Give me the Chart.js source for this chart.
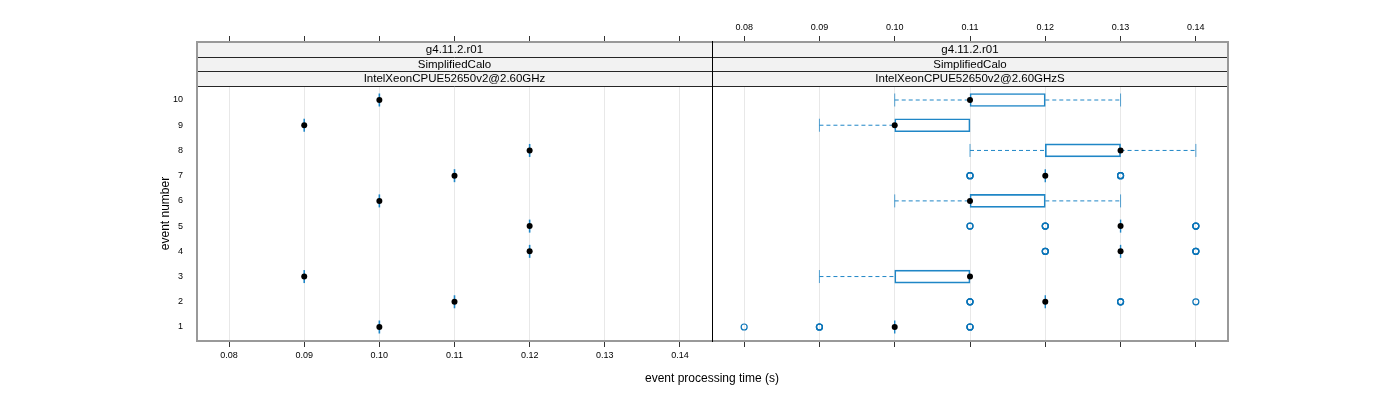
<!DOCTYPE html>
<html>
<head>
<meta charset="utf-8">
<script src="https://cdn.jsdelivr.net/npm/chart.js@4.4.0/dist/chart.umd.min.js"></script>
<style>
body { margin: 0; background: #fff; }
#wrap { position: relative; width: 1400px; height: 400px; }
canvas { position: absolute; left: 0; top: 0; }
</style>
</head>
<body>
<div id="wrap">
  <canvas id="leftPanel" width="1400" height="400"></canvas>
  <canvas id="rightPanel" width="1400" height="400"></canvas>
</div>
<script>
// y axis: event number
var events = [1, 2, 3, 4, 5, 6, 7, 8, 9, 10];
// x axis ticks (s)
var timeTicks = [0.08, 0.09, 0.10, 0.11, 0.12, 0.13, 0.14];

var leftStrips = ['g4.11.2.r01', 'SimplifiedCalo', 'IntelXeonCPUE52650v2@2.60GHz'];
var rightStrips = ['g4.11.2.r01', 'SimplifiedCalo', 'IntelXeonCPUE52650v2@2.60GHzS'];

// left panel: every run gave the same time
var leftTime = [0.10, 0.11, 0.09, 0.12, 0.12, 0.10, 0.11, 0.12, 0.09, 0.10];

// right panel: box statistics per event
var rightMin = [0.10, 0.12, 0.09, 0.13, 0.13, 0.10, 0.12, 0.11, 0.09, 0.10];
var rightQ1  = [0.10, 0.12, 0.10, 0.13, 0.13, 0.11, 0.12, 0.12, 0.10, 0.11];
var rightMed = [0.10, 0.12, 0.11, 0.13, 0.13, 0.11, 0.12, 0.13, 0.10, 0.11];
var rightQ3  = [0.10, 0.12, 0.11, 0.13, 0.13, 0.12, 0.12, 0.13, 0.11, 0.12];
var rightMax = [0.10, 0.12, 0.11, 0.13, 0.13, 0.13, 0.12, 0.14, 0.11, 0.13];

// right panel outliers (repeated values overplot)
var outlierEvent = [1, 1, 1, 1, 1, 1, 1,
                    2, 2, 2, 2, 2, 2, 2,
                    4, 4, 4, 4, 4, 4,
                    5, 5, 5, 5, 5, 5, 5, 5,
                    7, 7, 7, 7, 7, 7];
var outlierTime = [0.08, 0.09, 0.09, 0.09, 0.11, 0.11, 0.11,
                   0.11, 0.11, 0.11, 0.13, 0.13, 0.13, 0.14,
                   0.12, 0.12, 0.12, 0.14, 0.14, 0.14,
                   0.11, 0.11, 0.12, 0.12, 0.12, 0.14, 0.14, 0.14,
                   0.11, 0.11, 0.11, 0.13, 0.13, 0.13];

var xMin = 0.07573, xMax = 0.14427;
var yMin = 0.445, yMax = 12.30;
var boxColor = '#1f86c6';
var dotColor = '#0a74b8';
var fontFamily = '"Liberation Sans", Arial, sans-serif';

Chart.defaults.font.family = fontFamily;
Chart.defaults.font.size = 9;
Chart.defaults.color = '#000';

function pts(xs, ys) {
  return xs.map(function (x, i) { return {x: x, y: ys[i]}; });
}

// boxes, whiskers and staples for the right panel
var boxes = [], flatBoxes = [], whiskers = [], staples = [];
events.forEach(function (e, i) {
  if (rightQ1[i] < rightQ3[i]) boxes.push({x: [rightQ1[i], rightQ3[i]], y: e});
  else flatBoxes.push({x: rightMed[i], y: e});
  if (rightMin[i] < rightQ1[i]) {
    whiskers.push({x: rightMin[i], y: e}, {x: rightQ1[i], y: e}, {x: null, y: null});
    staples.push({x: rightMin[i], y: e});
  }
  if (rightMax[i] > rightQ3[i]) {
    whiskers.push({x: rightQ3[i], y: e}, {x: rightMax[i], y: e}, {x: null, y: null});
    staples.push({x: rightMax[i], y: e});
  }
});

var latticePlugin = {
  id: 'lattice',
  beforeDatasetsDraw: function (chart, args, opts) {
    var a = chart.chartArea, ctx = chart.ctx, h = 44 / 3;
    ctx.save();
    ctx.fillStyle = '#f2f2f2';
    ctx.fillRect(a.left, a.top, a.width, 44);
    ctx.font = '11.5px ' + fontFamily;
    ctx.textAlign = 'center';
    ctx.textBaseline = 'middle';
    ctx.strokeStyle = '#262626';
    ctx.lineWidth = 1;
    opts.strips.forEach(function (label, i) {
      var top = a.top + i * h;
      ctx.fillStyle = '#000';
      ctx.fillText(label, (a.left + a.right) / 2, top + h / 2 + 0.5);
      ctx.beginPath();
      ctx.moveTo(a.left, Math.round(top + h) + 0.5);
      ctx.lineTo(a.right, Math.round(top + h) + 0.5);
      ctx.stroke();
    });
    ctx.restore();
  },
  afterDraw: function (chart, args, opts) {
    var a = chart.chartArea, ctx = chart.ctx;
    ctx.save();
    ctx.strokeStyle = '#999';
    ctx.lineWidth = 2;
    ctx.beginPath();
    if (opts.side === 'left') {
      ctx.moveTo(a.right, a.top); ctx.lineTo(a.left, a.top);
      ctx.lineTo(a.left, a.bottom); ctx.lineTo(a.right, a.bottom);
    } else {
      ctx.moveTo(a.left, a.top); ctx.lineTo(a.right, a.top);
      ctx.lineTo(a.right, a.bottom); ctx.lineTo(a.left, a.bottom);
    }
    ctx.stroke();
    ctx.font = '12px ' + fontFamily;
    ctx.fillStyle = '#000';
    ctx.textAlign = 'center';
    ctx.textBaseline = 'middle';
    if (opts.side === 'left') {
      ctx.translate(a.left - 31, (a.top + 44 + a.bottom) / 2);
      ctx.rotate(-Math.PI / 2);
      ctx.fillText('event number', 0, 0);
    } else {
      ctx.strokeStyle = '#000';
      ctx.lineWidth = 1;
      ctx.beginPath();
      ctx.moveTo(a.left + 0.5, a.top - 1);
      ctx.lineTo(a.left + 0.5, a.bottom + 1);
      ctx.stroke();
      ctx.fillText('event processing time (s)', a.left, a.bottom + 38);
    }
    ctx.restore();
  }
};

function setTimeTicks(scale) {
  scale.ticks = timeTicks.map(function (v) { return {value: v}; });
}

function timeScales(labelsBottom) {
  return {
    x: {
      type: 'linear', position: 'bottom', min: xMin, max: xMax, offset: false,
      afterBuildTicks: setTimeTicks,
      afterFit: function (s) { s.height = 59; },
      grid: {color: '#e8e8e8', tickColor: '#333', tickLength: 6},
      border: {display: false},
      ticks: {display: labelsBottom, padding: 3, callback: function (v) { return v.toFixed(2); }}
    },
    x2: {
      type: 'linear', position: 'top', min: xMin, max: xMax, offset: false,
      afterBuildTicks: setTimeTicks,
      afterFit: function (s) { s.height = 42; },
      grid: {drawOnChartArea: false, tickColor: '#333', tickLength: 6},
      border: {display: false},
      ticks: {display: !labelsBottom, padding: 3, callback: function (v) { return v.toFixed(2); }}
    },
    y: {
      type: 'linear', min: yMin, max: yMax, offset: false, display: labelsBottom,
      afterBuildTicks: function (s) { s.ticks = events.map(function (v) { return {value: v}; }); },
      afterFit: function (s) { s.width = labelsBottom ? 38 : 0; },
      grid: {display: false},
      border: {display: false},
      ticks: {padding: 6, callback: function (v) { return v; }}
    }
  };
}

var commonOptions = {
  responsive: false,
  animation: false,
  events: [],
  plugins: {legend: {display: false}, tooltip: {enabled: false}}
};

var leftChart = new Chart(document.getElementById('leftPanel'), {
  type: 'scatter',
  data: {
    datasets: [
      {
        data: pts(leftTime, events),
        pointRadius: 3, pointBackgroundColor: '#000', pointBorderColor: '#000', pointBorderWidth: 0
      },
      {
        data: pts(leftTime, events),
        pointStyle: 'line', rotation: 90, pointRadius: 6.5,
        pointBorderColor: boxColor, pointBorderWidth: 1.6
      }
    ]
  },
  options: Object.assign({}, commonOptions, {
    layout: {padding: {left: 159, right: 688, top: 0, bottom: 0}},
    scales: timeScales(true),
    plugins: Object.assign({}, commonOptions.plugins, {lattice: {strips: leftStrips, side: 'left'}})
  }),
  plugins: [latticePlugin]
});

var rightChart = new Chart(document.getElementById('rightPanel'), {
  type: 'scatter',
  data: {
    datasets: [
      {
        data: pts(rightMed, events),
        pointRadius: 3, pointBackgroundColor: '#000', pointBorderColor: '#000', pointBorderWidth: 0
      },
      {
        data: pts(outlierTime, outlierEvent),
        pointRadius: 3, pointBackgroundColor: 'rgba(0,0,0,0)',
        pointBorderColor: dotColor, pointBorderWidth: 1.2
      },
      {
        data: flatBoxes,
        pointStyle: 'line', rotation: 90, pointRadius: 6.5,
        pointBorderColor: boxColor, pointBorderWidth: 1.4
      },
      {
        data: staples,
        pointStyle: 'line', rotation: 90, pointRadius: 6.5,
        pointBorderColor: 'rgba(31,134,198,0.75)', pointBorderWidth: 1
      },
      {
        type: 'line',
        data: whiskers,
        borderColor: boxColor, borderWidth: 1, borderDash: [4, 3],
        pointRadius: 0, spanGaps: false, fill: false
      },
      {
        type: 'bar',
        indexAxis: 'y',
        data: boxes,
        barThickness: 13,
        backgroundColor: 'rgba(0,0,0,0)',
        borderColor: boxColor, borderWidth: 1, borderSkipped: false
      }
    ]
  },
  options: Object.assign({}, commonOptions, {
    layout: {padding: {left: 712, right: 172, top: 0, bottom: 0}},
    scales: timeScales(false),
    plugins: Object.assign({}, commonOptions.plugins, {lattice: {strips: rightStrips, side: 'right'}})
  }),
  plugins: [latticePlugin]
});
</script>
</body>
</html>
